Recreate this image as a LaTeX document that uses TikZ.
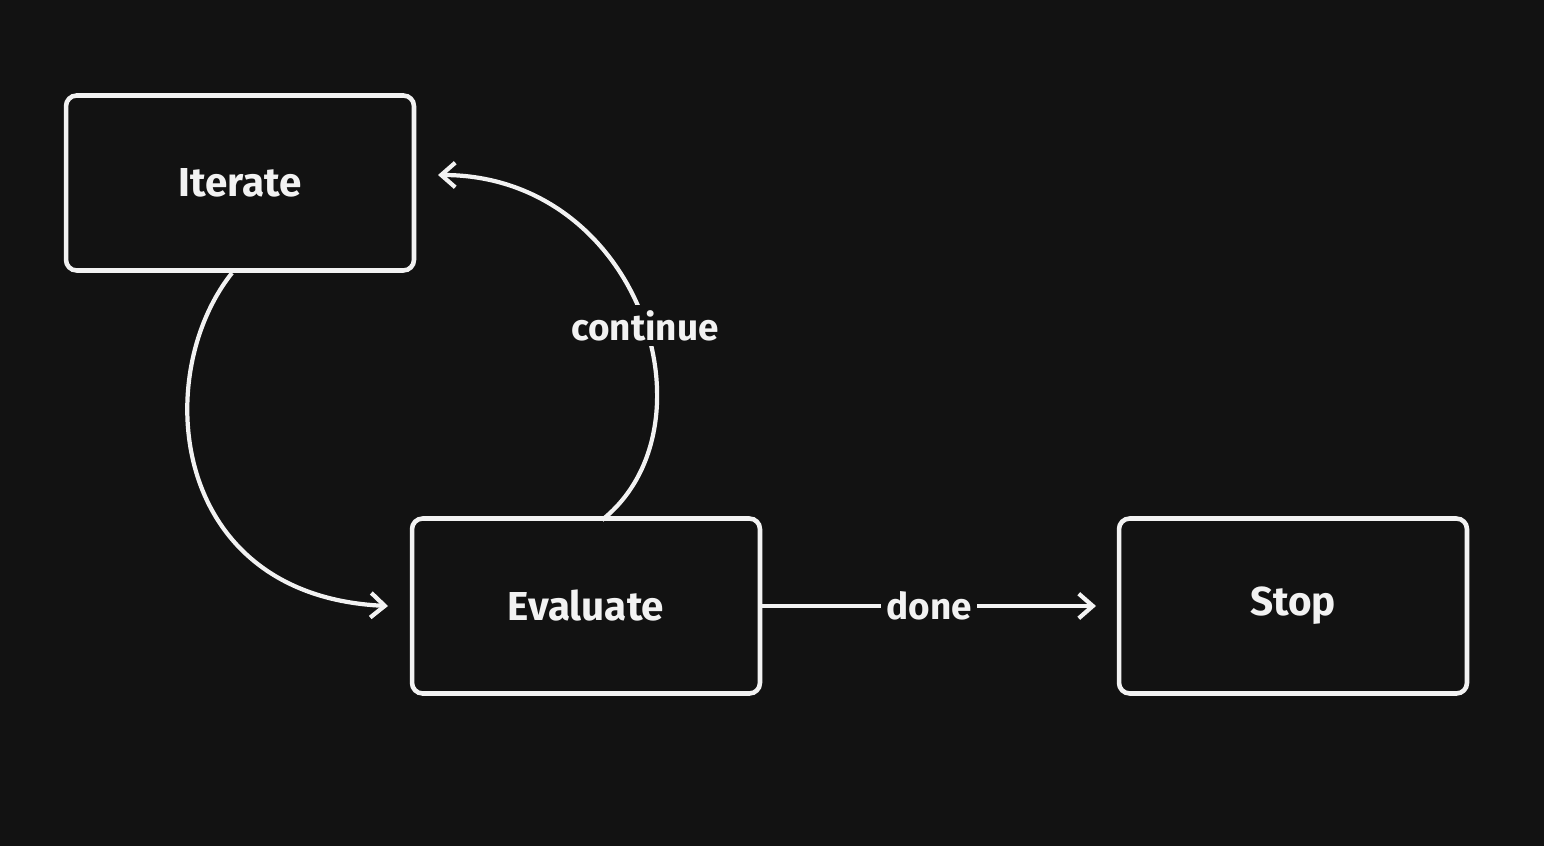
\documentclass[tikz,border=0pt]{standalone}
\usepackage{fontspec}
\setmainfont{Fira Sans}
\usetikzlibrary{positioning,arrows.meta}
\definecolor{bgdark}{HTML}{121212}
\definecolor{inkwhite}{HTML}{F2F2F2}
\begin{document}
\begin{tikzpicture}[x=0.02cm,y=0.02cm,
  statebox/.style={rectangle, draw=inkwhite, line width=2.6pt, rounded corners=6pt, minimum width=6.96cm, minimum height=3.5cm, text=inkwhite, font=\fontsize{23}{27}\selectfont\bfseries},
  flow/.style={draw=inkwhite, line width=2.4pt, -{Straight Barb[length=8pt,width=14pt]}},
  flowlabel/.style={fill=bgdark, text=inkwhite, font=\fontsize{21}{25}\selectfont\bfseries, inner sep=3pt}]
  \fill[bgdark] (0,0) rectangle (1544,846);
  \useasboundingbox (0,0) rectangle (1544,846);

  \node[statebox] (iter) at (240,663) {Iterate};
  \node[statebox] (eval) at (586,240) {Evaluate};
  \node[statebox] (stop) at (1293,240) {Stop};

  \coordinate (iterout) at (232,573);
  \coordinate (evalin) at (388,240);
  \coordinate (evalout) at (602,326);
  \coordinate (iterin) at (438,671);

  \coordinate (stopin) at (1096,240);

  \draw[flow] (iterout) .. controls (150,470) and (170,250) .. (evalin);
  \draw[flow] (evalout) .. controls (720,420) and (640,671) .. node[flowlabel, pos=0.47] {continue} (iterin);
  \draw[flow] (eval.east) -- node[flowlabel] {done} (stopin);
\end{tikzpicture}
\end{document}
